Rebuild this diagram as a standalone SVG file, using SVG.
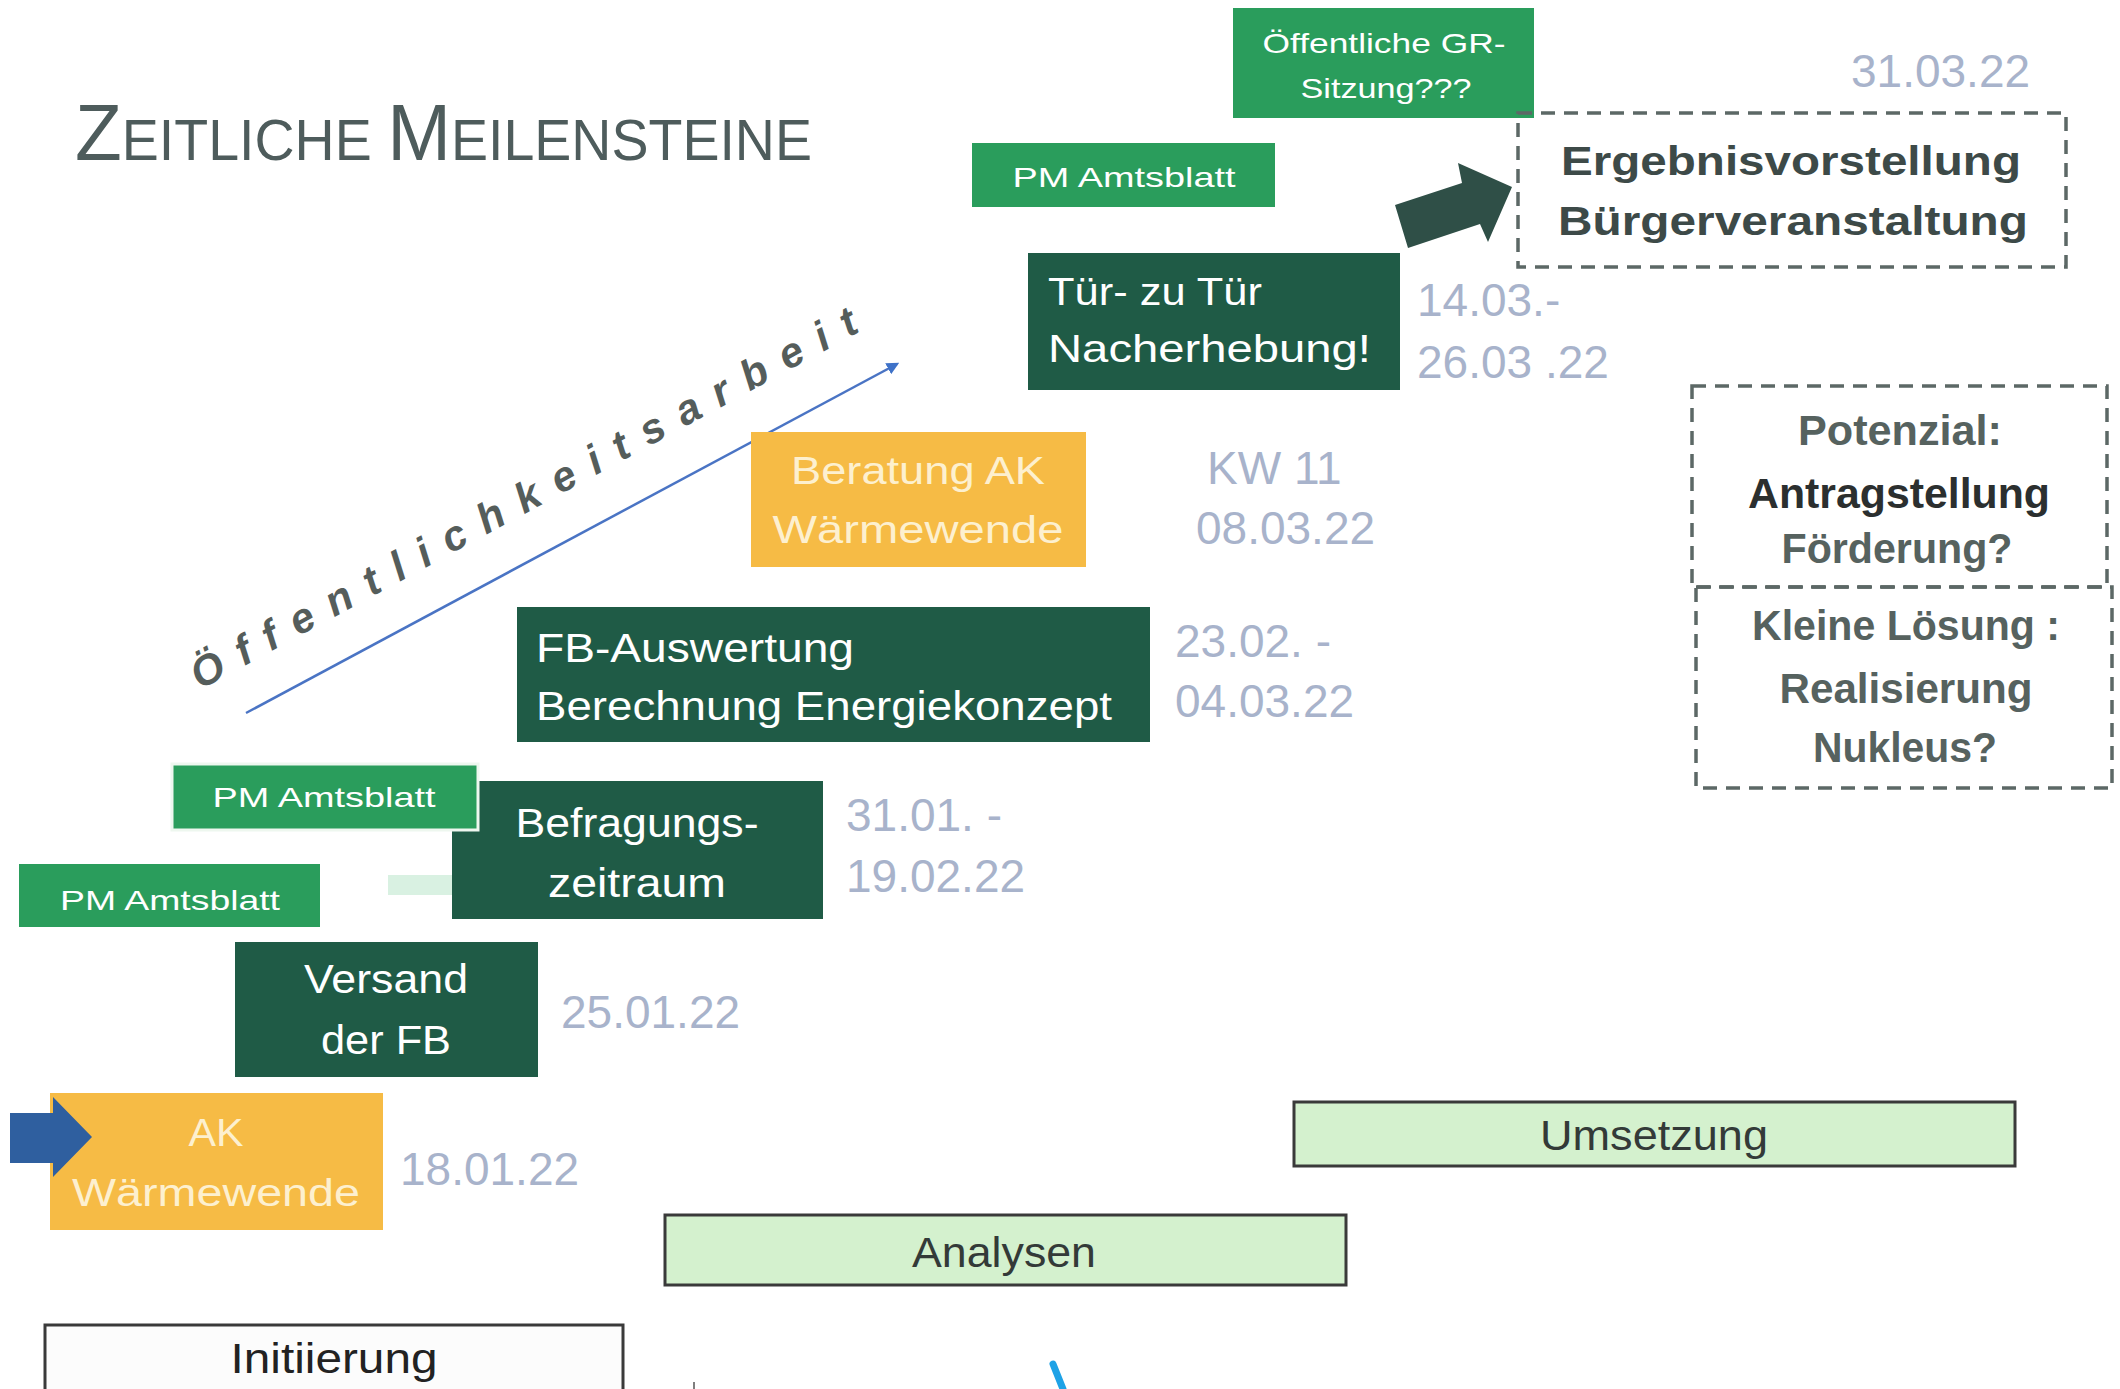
<svg xmlns="http://www.w3.org/2000/svg" width="2120" height="1389" viewBox="0 0 2120 1389">
<style>
  text { font-family: "Liberation Sans", Arial, sans-serif; }
  .w { fill: #ffffff; }
  .cream { fill: #fdf0cf; }
  .date { fill: #a8b3cb; font-size: 46px; }
  .pm { fill: #2a9d5c; }
  .dk { fill: #1f5b46; }
  .yl { fill: #f6bb45; }
  .bar { fill: #d4f1ce; stroke: #3a3a3a; stroke-width: 3; }
  .dash { fill: none; stroke: #5c6866; stroke-width: 3.5; stroke-dasharray: 14 9; }
  .gt { fill: #56625f; font-weight: bold; }
  .c { text-anchor: middle; }
</style>
<defs>
  <marker id="ah" viewBox="0 0 10 10" refX="8" refY="5" markerWidth="5" markerHeight="5" orient="auto">
    <path d="M0,0 L10,5 L0,10 z" fill="#3f72c8"/>
  </marker>
</defs>
<rect width="2120" height="1389" fill="#ffffff"/>

<g id="title">
  <text x="75" y="160" fill="#4e5c5c" textLength="737" lengthAdjust="spacingAndGlyphs"><tspan font-size="80">Z</tspan><tspan font-size="58">EITLICHE </tspan><tspan font-size="80">M</tspan><tspan font-size="58">EILENSTEINE</tspan></text>
</g>

<g id="connectors">
  <line x1="246" y1="713" x2="897" y2="364" stroke="#4a74c4" stroke-width="2.5" marker-end="url(#ah)"/>
  <polygon points="1395,205 1462,183 1458,163 1512,187 1488,242 1480,224 1408,248" fill="#2f4f47"/>
  <line x1="1053" y1="1364" x2="1063" y2="1389" stroke="#1ea2e6" stroke-width="7" stroke-linecap="round"/>
  <line x1="694" y1="1382" x2="694" y2="1389" stroke="#555" stroke-width="1.5"/>
</g>

<g id="oeffentlichkeitsarbeit">
  <text transform="translate(200,690) rotate(-28.5)" x="0" y="0" font-size="42" font-style="italic" font-weight="bold" fill="#555d5b" textLength="752" lengthAdjust="spacing">Öffentlichkeitsarbeit</text>
</g>

<g id="gr-sitzung">
  <rect x="1233" y="8" width="301" height="110" class="pm"/>
  <text x="1384" y="53" class="w c" font-size="28" textLength="243" lengthAdjust="spacingAndGlyphs">Öffentliche GR-</text>
  <text x="1386" y="98" class="w c" font-size="28" textLength="171" lengthAdjust="spacingAndGlyphs">Sitzung???</text>
</g>

<g id="date-3103">
  <text x="1851" y="87" class="date">31.03.22</text>
</g>

<g id="pm-top">
  <rect x="972" y="143" width="303" height="64" class="pm"/>
  <text x="1124" y="187" class="w c" font-size="28" textLength="223" lengthAdjust="spacingAndGlyphs">PM Amtsblatt</text>
</g>

<g id="ergebnis">
  <rect x="1518" y="113" width="548" height="154" class="dash"/>
  <text x="1791" y="175" class="c" font-size="41" font-weight="bold" fill="#3d4a48" textLength="460" lengthAdjust="spacingAndGlyphs">Ergebnisvorstellung</text>
  <text x="1793" y="235" class="c" font-size="41" font-weight="bold" fill="#3d4a48" textLength="470" lengthAdjust="spacingAndGlyphs">Bürgerveranstaltung</text>
</g>

<g id="tuer">
  <rect x="1028" y="253" width="372" height="137" class="dk"/>
  <text x="1048" y="305" class="w" font-size="39" textLength="214" lengthAdjust="spacingAndGlyphs">Tür- zu Tür</text>
  <text x="1048" y="362" class="w" font-size="39" textLength="323" lengthAdjust="spacingAndGlyphs">Nacherhebung!</text>
</g>

<g id="date-1403">
  <text x="1417" y="316" class="date" font-size="44">14.03.-</text>
  <text x="1417" y="378" class="date" font-size="44">26.03 .22</text>
</g>

<g id="potenzial">
  <rect x="1692" y="386" width="415" height="201" class="dash"/>
  <text x="1900" y="445" class="gt c" font-size="42" textLength="204" lengthAdjust="spacingAndGlyphs">Potenzial:</text>
  <text x="1899" y="508" class="c" font-size="42" font-weight="bold" fill="#2b2f2f" textLength="302" lengthAdjust="spacingAndGlyphs">Antragstellung</text>
  <text x="1897" y="563" class="gt c" font-size="42" textLength="231" lengthAdjust="spacingAndGlyphs">Förderung?</text>
</g>

<g id="kleine-loesung">
  <rect x="1696" y="587" width="416" height="201" class="dash"/>
  <text x="1906" y="640" class="gt c" font-size="42" textLength="308" lengthAdjust="spacingAndGlyphs">Kleine Lösung :</text>
  <text x="1906" y="703" class="gt c" font-size="42" textLength="253" lengthAdjust="spacingAndGlyphs">Realisierung</text>
  <text x="1905" y="762" class="gt c" font-size="42" textLength="184" lengthAdjust="spacingAndGlyphs">Nukleus?</text>
</g>

<g id="beratung">
  <rect x="751" y="432" width="335" height="135" class="yl"/>
  <text x="918" y="484" class="cream c" font-size="38" textLength="254" lengthAdjust="spacingAndGlyphs">Beratung AK</text>
  <text x="918" y="543" class="cream c" font-size="38" textLength="291" lengthAdjust="spacingAndGlyphs">Wärmewende</text>
</g>

<g id="date-kw11">
  <text x="1207" y="484" class="date">KW 11</text>
  <text x="1196" y="544" class="date">08.03.22</text>
</g>

<g id="fb-auswertung">
  <rect x="517" y="607" width="633" height="135" class="dk"/>
  <text x="536" y="662" class="w" font-size="40" textLength="318" lengthAdjust="spacingAndGlyphs">FB-Auswertung</text>
  <text x="536" y="720" class="w" font-size="40" textLength="576" lengthAdjust="spacingAndGlyphs">Berechnung Energiekonzept</text>
</g>

<g id="date-2302">
  <text x="1175" y="657" class="date">23.02. -</text>
  <text x="1175" y="717" class="date">04.03.22</text>
</g>

<g id="befragung">
  <rect x="388" y="875" width="66" height="20" fill="#d9f1e2"/>
  <rect x="452" y="781" width="371" height="138" class="dk"/>
  <text x="637" y="837" class="w c" font-size="40" textLength="243" lengthAdjust="spacingAndGlyphs">Befragungs-</text>
  <text x="637" y="897" class="w c" font-size="40" textLength="178" lengthAdjust="spacingAndGlyphs">zeitraum</text>
</g>

<g id="pm-middle">
  <rect x="172" y="764" width="306" height="66" class="pm" stroke="#eef7ef" stroke-width="3"/>
  <text x="324" y="807" class="w c" font-size="28" textLength="223" lengthAdjust="spacingAndGlyphs">PM Amtsblatt</text>
</g>

<g id="date-3101">
  <text x="846" y="831" class="date">31.01. -</text>
  <text x="846" y="892" class="date">19.02.22</text>
</g>

<g id="pm-lower">
  <rect x="19" y="864" width="301" height="63" class="pm"/>
  <text x="170" y="910" class="w c" font-size="28" textLength="220" lengthAdjust="spacingAndGlyphs">PM Amtsblatt</text>
</g>

<g id="versand">
  <rect x="235" y="942" width="303" height="135" class="dk"/>
  <text x="386" y="993" class="w c" font-size="41" textLength="164" lengthAdjust="spacingAndGlyphs">Versand</text>
  <text x="386" y="1054" class="w c" font-size="41" textLength="130" lengthAdjust="spacingAndGlyphs">der FB</text>
</g>

<g id="date-2501">
  <text x="561" y="1028" class="date">25.01.22</text>
</g>

<g id="ak-waermewende">
  <rect x="50" y="1093" width="333" height="137" class="yl"/>
  <polygon points="10,1113 53,1113 53,1097 92,1137 53,1177 53,1163 10,1163" fill="#2f5f9f"/>
  <text x="216" y="1146" class="cream c" font-size="38" textLength="55" lengthAdjust="spacingAndGlyphs">AK</text>
  <text x="216" y="1206" class="cream c" font-size="38" textLength="288" lengthAdjust="spacingAndGlyphs">Wärmewende</text>
</g>

<g id="date-1801">
  <text x="400" y="1185" class="date">18.01.22</text>
</g>

<g id="umsetzung">
  <rect x="1294" y="1102" width="721" height="64" class="bar"/>
  <text x="1654" y="1150" class="c" font-size="42" fill="#333a38" textLength="228" lengthAdjust="spacingAndGlyphs">Umsetzung</text>
</g>

<g id="analysen">
  <rect x="665" y="1215" width="681" height="70" class="bar"/>
  <text x="1004" y="1267" class="c" font-size="42" fill="#333a38" textLength="184" lengthAdjust="spacingAndGlyphs">Analysen</text>
</g>

<g id="initiierung">
  <rect x="45" y="1325" width="578" height="70" fill="#fcfcfc" stroke="#3a3a3a" stroke-width="3"/>
  <text x="334" y="1373" class="c" font-size="42" fill="#222" textLength="207" lengthAdjust="spacingAndGlyphs">Initiierung</text>
</g>
</svg>
